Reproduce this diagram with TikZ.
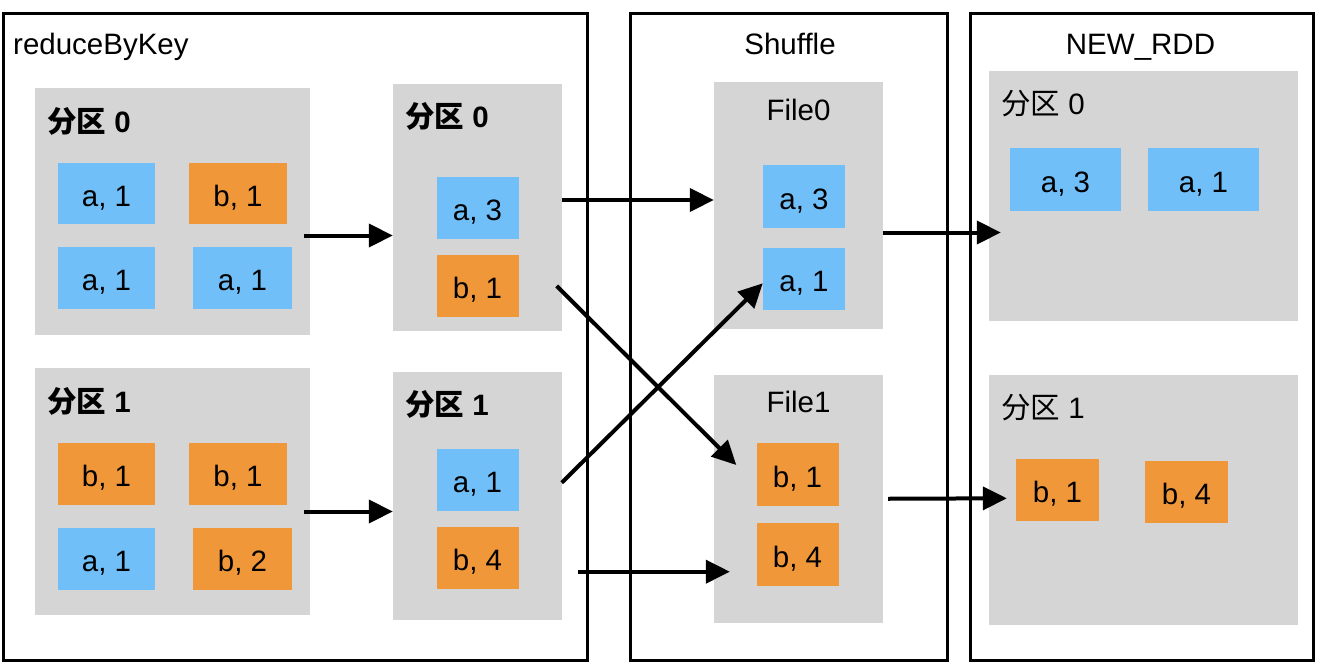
\documentclass[tikz,border=0pt]{standalone}
\usepackage{fontspec}
\setmainfont{Liberation Sans}
\newfontfamily\cjk{Noto Sans CJK SC}
\usepackage{tikz}
\usetikzlibrary{arrows.meta}
\definecolor{keyA}{RGB}{113,191,249}
\definecolor{keyB}{RGB}{240,151,58}
\definecolor{partgray}{RGB}{213,213,213}

\begin{document}
\begin{tikzpicture}[x=1pt, y=-1pt,
  every node/.style={font=\fontsize{29.5}{35}\selectfont, inner sep=0pt, text depth=0pt},
  stage/.style 2 args={draw, line width=3pt, minimum width=#1, minimum height=#2},
  part/.style 2 args={fill=partgray, minimum width=#1, minimum height=#2},
  kvA/.style 2 args={fill=keyA, minimum width=#1, minimum height=#2, text height=25pt},
  kvB/.style 2 args={fill=keyB, minimum width=#1, minimum height=#2, text height=25pt},
  ttl/.style={anchor=west, font=\fontsize{29.5}{35}\selectfont\bfseries},
  ttlr/.style={anchor=west},
  flow/.style={-{Triangle[length=24pt,width=23pt]}, line width=4pt}]
\useasboundingbox (0,0) rectangle (1320,664);
\node[stage={584pt}{647pt}] (rbk) at (295,336.5) {};
\node[stage={317pt}{647pt}] (shuf) at (788.5,336.5) {};
\node[stage={343pt}{647pt}] (rdd) at (1141.5,336.5) {};
\node[anchor=west] (rbkname) at (13,44) {reduceByKey};
\node (shufname) at (790,44) {Shuffle};
\node (rddname) at (1140.5,44) {NEW\_RDD};
\node[part={275pt}{247pt}] (lp0) at (172.5,211.5) {};
\node[part={275pt}{247pt}] (lp1) at (172.5,491.5) {};
\node[part={169pt}{247pt}] (mp0) at (477.5,207.5) {};
\node[part={169pt}{248pt}] (mp1) at (477.5,496) {};
\node[part={169pt}{247pt}] (file0) at (798.5,205.5) {};
\node[part={169pt}{247.5pt}] (file1) at (798.5,498.75) {};
\node[part={309pt}{249.5pt}] (np0) at (1143.5,195.75) {};
\node[part={309pt}{249.5pt}] (np1) at (1143.5,499.75) {};
\node[ttl] (lp0t) at (47,120) {{\cjk 分区} 0};
\node[ttl] (lp1t) at (47,400) {{\cjk 分区} 1};
\node[ttl] (mp0t) at (405,115) {{\cjk 分区} 0};
\node[ttl] (mp1t) at (405,403) {{\cjk 分区} 1};
\node (file0t) at (798.5,110) {File0};
\node (file1t) at (798.5,402) {File1};
\node[ttlr] (np0t) at (1001,102) {{\cjk 分区} 0};
\node[ttlr] (np1t) at (1001,406) {{\cjk 分区} 1};
\node[kvA={97pt}{61pt}] (lp0a) at (106.5,193.5) {a, 1};
\node[kvB={98pt}{61pt}] (lp0b) at (238,193.5) {b, 1};
\node[kvA={97pt}{62pt}] (lp0c) at (106.5,278) {a, 1};
\node[kvA={99pt}{62pt}] (lp0d) at (242.5,278) {a, 1};
\node[kvB={97pt}{62pt}] (lp1a) at (106.5,474) {b, 1};
\node[kvB={98pt}{62pt}] (lp1b) at (238,474) {b, 1};
\node[kvA={97pt}{62pt}] (lp1c) at (106.5,559) {a, 1};
\node[kvB={99pt}{62pt}] (lp1d) at (242.5,559) {b, 2};
\node[kvA={82pt}{62pt}] (mp0a) at (477.5,208) {a, 3};
\node[kvB={82pt}{62pt}] (mp0b) at (477.5,286) {b, 1};
\node[kvA={82pt}{62pt}] (mp1a) at (477.5,480) {a, 1};
\node[kvB={82pt}{62pt}] (mp1b) at (477.5,558) {b, 4};
\node[kvA={82pt}{63pt}] (file0a) at (804,196.5) {a, 3};
\node[kvA={82pt}{62pt}] (file0b) at (804,279) {a, 1};
\node[kvB={82pt}{63pt}] (file1a) at (797.5,474.5) {b, 1};
\node[kvB={82pt}{63pt}] (file1b) at (797.5,554.5) {b, 4};
\node[kvA={111pt}{63pt}] (np0a) at (1065.5,179.5) {a, 3};
\node[kvA={111pt}{63pt}] (np0b) at (1203.5,179.5) {a, 1};
\node[kvB={83pt}{62pt}] (np1a) at (1057.5,490) {b, 1};
\node[kvB={83pt}{62pt}] (np1b) at (1186.5,492) {b, 4};
\draw[flow] ([shift={(-6pt,-24pt)}]lp0.east) -- ([yshift=-28pt]mp0.west);
\draw[flow] ([shift={(-6pt,-20pt)}]lp1.east) -- ([yshift=-15.5pt]mp1.west);
\draw[flow] ([yshift=7.5pt]mp0.east) -- ([yshift=5.5pt]file0.west);
\draw[flow] ([xshift=38pt]mp0b.east) -- ([shift={(-20pt,9.5pt)}]file1a.west);
\draw[flow] ([shift={(43pt,-2.7pt)}]mp1a.east) -- ([yshift=-4.3pt]file0b.west);
\draw[flow] ([shift={(59.5pt,-13.7pt)}]mp1b.east) -- ([shift={(-26.5pt,-17.2pt)}]file1b.west);
\draw[flow] ([yshift=-27pt]file0.east) -- ([shift={(12pt,-36.75pt)}]np0.west);
\draw[flow] ([xshift=5pt]file1.east) -- ([shift={(-9pt,-8.3pt)}]np1a.west);
\end{tikzpicture}
\end{document}
